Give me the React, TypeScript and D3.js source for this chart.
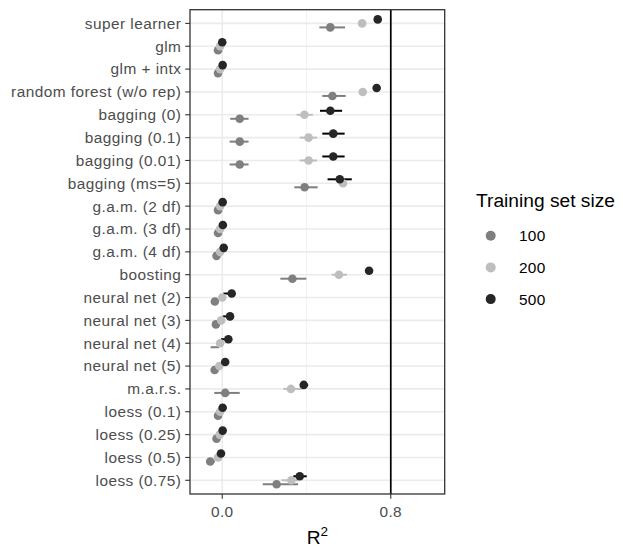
import * as d3 from "d3";

// categories, top to bottom
const methods = [
  "super learner", "glm", "glm + intx", "random forest (w/o rep)",
  "bagging (0)", "bagging (0.1)", "bagging (0.01)", "bagging (ms=5)",
  "g.a.m. (2 df)", "g.a.m. (3 df)", "g.a.m. (4 df)", "boosting",
  "neural net (2)", "neural net (3)", "neural net (4)", "neural net (5)",
  "m.a.r.s.", "loess (0.1)", "loess (0.25)", "loess (0.5)", "loess (0.75)",
];

const sizes = ["100", "200", "500"];

// mean R^2 for each training set size (null = point not shown)
const mean100 = [0.513, -0.02, -0.02, 0.523, 0.083, 0.083, 0.083, 0.391, -0.02, -0.02, -0.027, 0.333, -0.035, -0.03, null, -0.036, 0.014, -0.02, -0.027, -0.057, 0.258];
const lo100 = [0.461, -0.02, -0.02, 0.475, 0.038, 0.035, 0.035, 0.342, -0.02, -0.02, -0.027, 0.276, -0.035, -0.03, -0.055, -0.036, -0.038, -0.02, -0.027, -0.077, 0.192];
const hi100 = [0.583, -0.02, -0.02, 0.586, 0.125, 0.125, 0.125, 0.453, -0.02, -0.02, -0.027, 0.399, -0.035, -0.03, -0.015, -0.036, 0.083, -0.02, -0.027, -0.035, 0.36];

const mean200 = [0.664, -0.01, -0.01, 0.667, 0.39, 0.41, 0.41, 0.573, -0.01, -0.01, -0.01, 0.554, 0.0, -0.005, -0.01, -0.014, 0.326, -0.01, -0.012, -0.02, 0.328];
const lo200 = [0.664, -0.01, -0.01, 0.667, 0.353, 0.368, 0.368, 0.573, -0.01, -0.01, -0.01, 0.52, 0.0, -0.005, -0.01, -0.014, 0.29, -0.01, -0.012, -0.02, 0.282];
const hi200 = [0.664, -0.01, -0.01, 0.667, 0.43, 0.45, 0.45, 0.573, -0.01, -0.01, -0.01, 0.592, 0.0, -0.005, -0.01, -0.014, 0.377, -0.01, -0.012, -0.02, 0.361];

const mean500 = [0.738, 0.0, 0.002, 0.733, 0.513, 0.527, 0.527, 0.558, 0.002, 0.003, 0.007, 0.697, 0.045, 0.037, 0.029, 0.014, 0.387, 0.002, 0.002, -0.006, 0.368];
const lo500 = [0.738, 0.0, 0.002, 0.733, 0.464, 0.475, 0.475, 0.5, 0.002, 0.003, 0.007, 0.697, 0.005, 0.002, -0.006, 0.014, 0.37, 0.002, 0.002, -0.006, 0.337];
const hi500 = [0.738, 0.0, 0.002, 0.733, 0.569, 0.581, 0.581, 0.615, 0.002, 0.003, 0.007, 0.697, 0.05, 0.042, 0.034, 0.014, 0.408, 0.002, 0.002, -0.006, 0.401];

const xTicks = [0, 0.8];
const xMinor = [0.4];

const series = [
  { key: "100", mean: mean100, lo: lo100, hi: hi100, color: "#7f7f7f", bar: "#7f7f7f", offset: 4 },
  { key: "200", mean: mean200, lo: lo200, hi: hi200, color: "#bebebe", bar: "#bebebe", offset: 0 },
  { key: "500", mean: mean500, lo: lo500, hi: hi500, color: "#262626", bar: "#000000", offset: -4 },
];

const W = 623, H = 547;
const panel = { left: 190, right: 444.7, top: 9.7, bottom: 494 };
const font = "Liberation Sans, Arial, Helvetica, sans-serif";
const axisSize = 15.4;
const titleSize = 19.2;

export default function App() {
  const x = d3.scaleLinear().domain([-0.153, 1.056]).range([panel.left, panel.right]);
  const y = d3
    .scalePoint()
    .domain(methods)
    .range([panel.top, panel.bottom])
    .padding(0.6);

  return (
    <svg width={W} height={H} style={{ position: "absolute", left: 0, top: 0 }} fontFamily={font}>
      <rect x={0} y={0} width={W} height={H} fill="white" />
      {/* grid */}
      {xMinor.map((t) => (
        <line key={"mn" + t} x1={x(t)} x2={x(t)} y1={panel.top} y2={panel.bottom} stroke="#f2f2f2" strokeWidth={1} />
      ))}
      {methods.map((m) => (
        <line key={"gy" + m} x1={panel.left} x2={panel.right} y1={y(m)} y2={y(m)} stroke="#ebebeb" strokeWidth={1.6} />
      ))}
      {xTicks.map((t) => (
        <line key={"gx" + t} x1={x(t)} x2={x(t)} y1={panel.top} y2={panel.bottom} stroke="#ebebeb" strokeWidth={1.6} />
      ))}
      {/* reference line at 0.8 */}
      <line x1={x(0.8)} x2={x(0.8)} y1={panel.top} y2={panel.bottom} stroke="black" strokeWidth={1.7} />

      {/* error bars */}
      {series.map((s) =>
        methods.map((m, i) =>
          s.hi[i] - s.lo[i] > 0.001 ? (
            <line
              key={"e" + s.key + i}
              x1={x(s.lo[i])}
              x2={x(s.hi[i])}
              y1={y(m)! + s.offset}
              y2={y(m)! + s.offset}
              stroke={s.bar}
              strokeWidth={2}
            />
          ) : null
        )
      )}
      {/* points */}
      {series.map((s) =>
        methods.map((m, i) =>
          s.mean[i] === null ? null : (
            <circle key={"p" + s.key + i} cx={x(s.mean[i] as number)} cy={y(m)! + s.offset} r={4.3} fill={s.color} />
          )
        )
      )}

      {/* panel border */}
      <rect x={panel.left} y={panel.top} width={panel.right - panel.left} height={panel.bottom - panel.top} fill="none" stroke="#333" strokeWidth={1.3} />

      {/* y axis */}
      {methods.map((m) => (
        <g key={"yl" + m}>
          <line x1={panel.left - 4.8} x2={panel.left} y1={y(m)} y2={y(m)} stroke="#333" strokeWidth={1.1} />
          <text x={panel.left - 8.6} y={y(m)} dy="0.35em" textAnchor="end" fontSize={axisSize} letterSpacing={0.45} fill="#4d4d4d">
            {m}
          </text>
        </g>
      ))}
      {/* x axis */}
      {xTicks.map((t) => (
        <g key={"xl" + t}>
          <line x1={x(t)} x2={x(t)} y1={panel.bottom} y2={panel.bottom + 4.8} stroke="#333" strokeWidth={1.1} />
          <text x={x(t)} y={517} textAnchor="middle" fontSize={axisSize} letterSpacing={0.3} fill="#4d4d4d">
            {d3.format(".1f")(t)}
          </text>
        </g>
      ))}
      <text x={(panel.left + panel.right) / 2} y={543.5} textAnchor="middle" fontSize={titleSize} fill="black">
        R<tspan dy={-7.5} fontSize={13.5}>2</tspan>
      </text>

      {/* legend */}
      <text x={476} y={206.5} fontSize={titleSize} fill="black">Training set size</text>
      {series.map((s, i) => (
        <g key={"lg" + s.key}>
          <circle cx={490.7} cy={235.7 + i * 31.7} r={5} fill={s.color} />
          <text x={519} y={235.7 + i * 31.7} dy="0.36em" fontSize={axisSize} letterSpacing={0.3} fill="black">
            {sizes[i]}
          </text>
        </g>
      ))}
    </svg>
  );
}
